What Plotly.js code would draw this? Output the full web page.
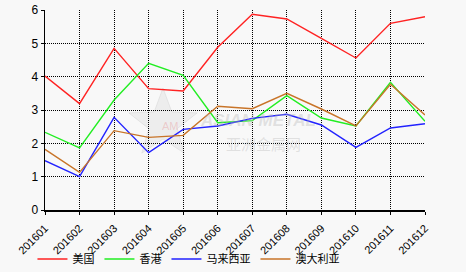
<!DOCTYPE html>
<html>
<head>
<meta charset="utf-8">
<script src="https://cdn.plot.ly/plotly-3.0.1.min.js"></script>
<style>
html,body{margin:0;padding:0;background:#f8f8f8;}
#chart{width:466px;height:272px;}
</style>
</head>
<body>
<div id="chart"></div>
<script>
var months = ['201601','201602','201603','201604','201605','201606','201607','201608','201609','201610','201611','201612'];
var usa = [4.02, 3.19, 4.85, 3.64, 3.57, 4.88, 5.87, 5.73, 5.15, 4.56, 5.60, 5.80];
var hongkong = [2.33, 1.86, 3.30, 4.40, 4.04, 2.62, 2.68, 3.43, 2.76, 2.52, 3.83, 2.66];
var malaysia = [1.48, 1.00, 2.78, 1.72, 2.42, 2.52, 2.75, 2.87, 2.55, 1.88, 2.46, 2.59];
var australia = [1.82, 1.13, 2.38, 2.18, 2.24, 3.11, 3.04, 3.50, 3.03, 2.52, 3.77, 2.85];
var seriesNames = ['美国', '香港', '马来西亚', '澳大利亚'];
var yTicks = [0, 1, 2, 3, 4, 5, 6];

var colors = ['#ff2222', '#22ee22', '#2222ff', '#c87428'];
var values = [usa, hongkong, malaysia, australia];
var traces = values.map(function(v, i){
  return {
    x: months, y: v, type: 'scatter', mode: 'lines',
    name: seriesNames[i],
    line: {color: colors[i], width: 1.4}
  };
});

// watermark star (decoration), in paper coordinates
function px2x(px){ return (px - 45) / 380; }
function py2y(py){ return (210 - py) / 200; }
var cx = 163, cy = 124, ro = 36, ri = 15, pts = [];
for (var k = 0; k < 10; k++) {
  var r = (k % 2 === 0) ? ro : ri;
  var a = -Math.PI / 2 + k * Math.PI / 5;
  pts.push(px2x(cx + r * Math.cos(a)).toFixed(4) + ',' + py2y(cy + r * Math.sin(a)).toFixed(4));
}
var starPath = 'M' + pts.join('L') + 'Z';

var font = {family: 'Liberation Sans, Arial, sans-serif', size: 11, color: '#000'};
var layout = {
  width: 466, height: 272,
  paper_bgcolor: '#f8f8f8', plot_bgcolor: '#f8f8f8',
  margin: {l: 45, r: 41, t: 10, b: 62, autoexpand: false},
  font: font,
  showlegend: true,
  legend: {
    orientation: 'h', x: -0.033, xanchor: 'left', y: -0.245, yanchor: 'middle',
    font: {family: 'Noto Sans CJK SC, sans-serif', size: 11, color: '#000'},
    bgcolor: 'rgba(0,0,0,0)'
  },
  xaxis: {
    type: 'category', range: [0, 11], tickangle: -45,
    showgrid: true, gridcolor: '#000', griddash: '1px,1px', gridwidth: 1,
    showline: true, linecolor: '#000', linewidth: 1.5,
    ticks: 'outside', ticklen: 3, tickcolor: '#000', ticklabelstandoff: 3,
    zeroline: false, tickfont: font, fixedrange: true
  },
  yaxis: {
    range: [0, 6], tickvals: yTicks,
    showgrid: true, gridcolor: '#000', griddash: '1px,1px', gridwidth: 1,
    showline: true, linecolor: '#000', linewidth: 1.5,
    ticks: 'outside', ticklen: 3, tickcolor: '#000',
    zeroline: false, tickfont: {family: font.family, size: 12, color: '#000'}, fixedrange: true
  },
  shapes: [
    {type: 'path', xref: 'paper', yref: 'paper', path: starPath, layer: 'below',
     fillcolor: 'rgba(200,200,200,0.22)', line: {color: 'rgba(200,200,200,0.35)', width: 1}}
  ],
  annotations: [
    {xref: 'paper', yref: 'paper', x: px2x(160), y: py2y(126), text: 'AM', showarrow: false,
     font: {size: 11, color: 'rgba(230,120,120,0.3)', family: 'Liberation Sans, Arial'}},
    {xref: 'paper', yref: 'paper', x: px2x(258), y: py2y(121), text: '<b><i>ASIAN METAL</i></b>', showarrow: false,
     font: {size: 17, color: 'rgba(180,180,180,0.35)', family: 'Liberation Sans, Arial'}},
    {xref: 'paper', yref: 'paper', x: px2x(263), y: py2y(143), text: '亚洲金属网', showarrow: false,
     font: {size: 15, color: 'rgba(180,180,180,0.35)', family: 'Noto Sans CJK SC'}}
  ]
};

Plotly.newPlot('chart', traces, layout, {displayModeBar: false, staticPlot: true});
</script>
</body>
</html>
